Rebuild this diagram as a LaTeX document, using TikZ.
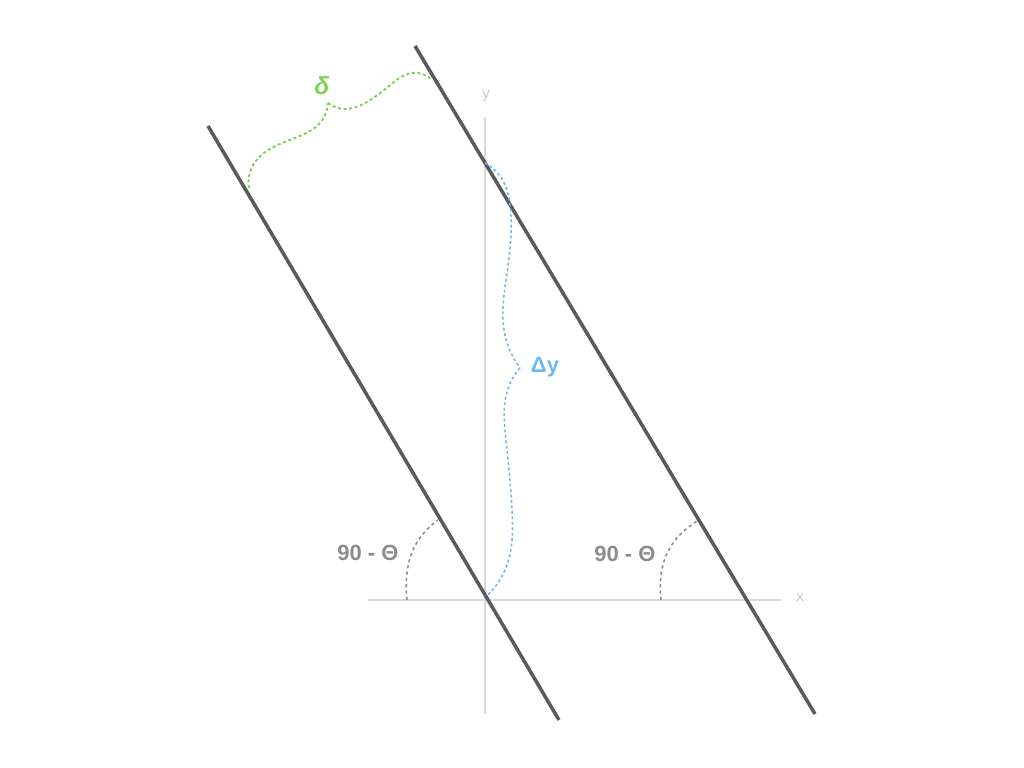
\documentclass[tikz,border=0pt]{standalone}
\usepackage{fontspec}
\setmainfont{Liberation Sans}
\usepackage{tikz}
\usetikzlibrary{calc,hobby}
\definecolor{lineGray}{RGB}{90,90,90}
\definecolor{axisGray}{RGB}{217,217,217}
\definecolor{axisText}{RGB}{200,200,200}
\definecolor{angGray}{RGB}{140,140,140}
\definecolor{deltaGreen}{RGB}{126,211,82}
\definecolor{dyBlue}{RGB}{108,184,245}

\begin{document}
\begin{tikzpicture}[x=0.2mm, y=0.2mm,
    axis/.style={axisGray, line width=1.1pt},
    band/.style={lineGray, line width=2pt},
    angarc/.style={angGray, line width=0.9pt, dash pattern=on 1.8pt off 1.8pt},
    greenbrace/.style={deltaGreen, line width=1.1pt, dash pattern=on 1.7pt off 1.5pt, use Hobby shortcut},
    bluebrace/.style={dyBlue, line width=0.9pt, dash pattern=on 1.6pt off 1.5pt, use Hobby shortcut}]
    \useasboundingbox (-485,-168) rectangle (539,600);

    \coordinate (O) at (0,0);
    % осі
    \coordinate (Xl) at (-117,0);
    \coordinate (Xr) at (296,0);
    \coordinate (Yb) at (0,-114);
    \coordinate (Yt) at (0,483);
    \draw[axis] (Xl) -- (Xr);
    \draw[axis] (Yb) -- (Yt);
    \node[axisText, font=\fontsize{8.5}{9}\selectfont] (xlab) at (315,2) {x};
    \node[axisText, font=\fontsize{8.5}{9}\selectfont] (ylab) at (1,504) {y};

    % дві паралельні прямі
    \coordinate (A1) at (-277,474);
    \coordinate (B1) at (74,-120);
    \coordinate (A2) at (-70,554);
    \coordinate (B2) at (330,-114);
    \draw[band] (A1) -- (B1);
    \draw[band] (A2) -- (B2);

    % кути
    \draw[angarc] (-78,0) .. controls (-82,40) and (-70,63) .. (-47,80);
    \draw[angarc] (176,0) .. controls (172,40) and (186,62) .. (212,79);
    \node[angGray, font=\fontsize{12.5}{14}\selectfont\bfseries] (angL) at (-117,47) {90 - Θ};
    \node[angGray, font=\fontsize{12.5}{14}\selectfont\bfseries] (angR) at (140,46) {90 - Θ};

    % дужка delta
    \coordinate (G1) at (-236,412);
    \coordinate (Gt) at (-157,497);
    \coordinate (G2) at (-53,520);
    \draw[greenbrace] (G1) .. (-233,433) .. (-215,451) .. (-185,464) .. (-166,476) .. (Gt);
    \draw[greenbrace] (Gt) .. (-140,491) .. (-118,498) .. (-96,514) .. (-73,527) .. (G2);
    \node[deltaGreen, font=\fontsize{14}{16}\selectfont\bfseries\itshape] (delta) at (-163,514) {δ};

    % дужка Delta y
    \coordinate (Q) at (0,437);
    \coordinate (Dt) at (35,232);
    \draw[bluebrace] (Q) .. (17,421) .. (25,395) .. (21,320) .. (19,270) .. (Dt);
    \draw[bluebrace] (Dt) .. (22,208) .. (21,160) .. (27,90) .. (22,35) .. (2,4);
    \node[dyBlue, font=\fontsize{12.5}{14}\selectfont\bfseries] (dy) at (60,233) {Δy};
\end{tikzpicture}
\end{document}
